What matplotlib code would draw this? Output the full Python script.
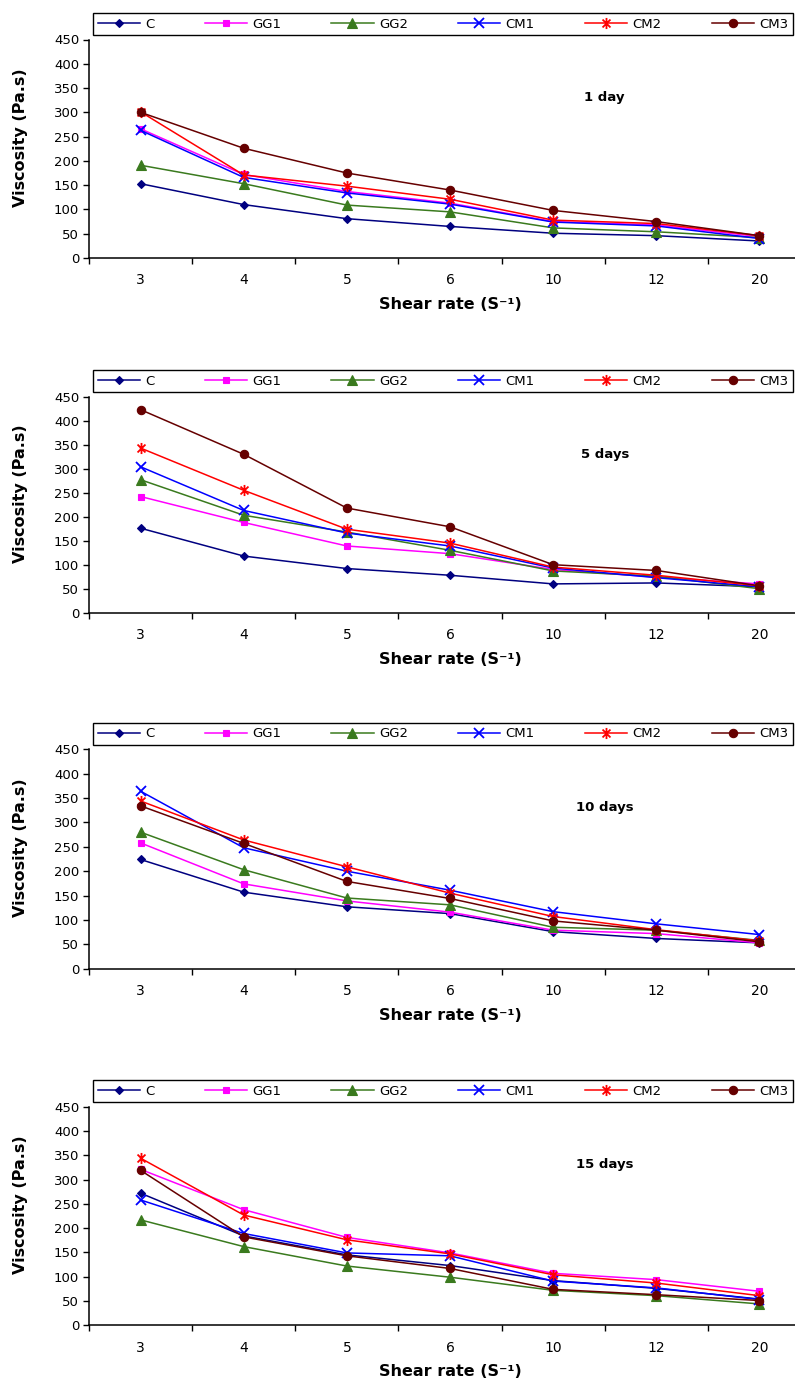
import matplotlib
matplotlib.use("Agg")
import matplotlib.pyplot as plt
from matplotlib.path import Path

SHEAR = ["3", "4", "5", "6", "10", "12", "20"]
SERIES = ["C", "GG1", "GG2", "CM1", "CM2", "CM3"]
PANELS = ["1 day", "5 days", "10 days", "15 days"]

# viscosity (Pa.s), one dict per storage time
DAY1 = {
    "C":   [153, 110, 81, 65, 51, 46, 35],
    "GG1": [266, 172, 137, 113, 75, 68, 44],
    "GG2": [191, 153, 109, 95, 62, 54, 42],
    "CM1": [263, 166, 134, 111, 74, 66, 40],
    "CM2": [301, 171, 148, 121, 78, 71, 46],
    "CM3": [300, 226, 175, 140, 98, 75, 46],
}
DAY5 = {
    "C":   [176, 118, 92, 78, 60, 62, 54],
    "GG1": [242, 188, 139, 123, 90, 74, 60],
    "GG2": [277, 203, 168, 130, 87, 76, 50],
    "CM1": [304, 213, 166, 139, 93, 73, 54],
    "CM2": [343, 255, 174, 145, 95, 78, 56],
    "CM3": [423, 330, 218, 179, 100, 88, 56],
}
DAY10 = {
    "C":   [224, 157, 127, 113, 76, 62, 53],
    "GG1": [258, 174, 139, 116, 79, 72, 53],
    "GG2": [280, 203, 145, 131, 85, 79, 58],
    "CM1": [364, 248, 200, 161, 117, 92, 70],
    "CM2": [344, 264, 209, 155, 107, 80, 57],
    "CM3": [334, 257, 179, 144, 98, 79, 55],
}
DAY15 = {
    "C":   [272, 184, 145, 123, 92, 76, 54],
    "GG1": [321, 238, 181, 149, 107, 94, 70],
    "GG2": [217, 162, 122, 99, 72, 61, 44],
    "CM1": [258, 189, 149, 143, 91, 77, 53],
    "CM2": [344, 227, 176, 147, 104, 87, 61],
    "CM3": [319, 182, 143, 117, 74, 63, 51],
}
DATA = [DAY1, DAY5, DAY10, DAY15]

# Excel style "star": an x with a vertical bar through it
STAR = Path([(-1, -1), (1, 1), (-1, 1), (1, -1), (0, -1.4), (0, 1.4)],
            [Path.MOVETO, Path.LINETO, Path.MOVETO, Path.LINETO,
             Path.MOVETO, Path.LINETO])

STYLE = {
    "C":   ("#000080", "D", 4.5),
    "GG1": ("#FF00FF", "s", 5),
    "GG2": ("#3A7A1E", "^", 6.5),
    "CM1": ("#0000FF", "x", 7),
    "CM2": ("#FF0000", STAR, 8),
    "CM3": ("#660000", "o", 6),
}

# axes rectangles in pixels (top of 450, bottom at 0)
W, H = 795, 1394
AX_X0, AX_X1 = 89, 811
AX_Y = [(39.5, 258), (396.7, 612.7), (749.3, 968.7), (1106.7, 1325.3)]


def main():
    plt.rcParams.update({"font.family": "DejaVu Sans"})
    fig = plt.figure(figsize=(W / 100, H / 100), dpi=100)
    x = list(range(len(SHEAR)))
    for data, label, (ytop, ybot) in zip(DATA, PANELS, AX_Y):
        ax = fig.add_axes([AX_X0 / W, 1 - ybot / H,
                           (AX_X1 - AX_X0) / W, (ybot - ytop) / H])
        for name in SERIES:
            color, marker, ms = STYLE[name]
            ax.plot(x, data[name], color=color, marker=marker, markersize=ms,
                    markeredgewidth=1.3 if name in ("CM1", "CM2") else 0.8,
                    linewidth=1.1, label=name)
        ax.set_xlim(-0.5, len(SHEAR) - 0.5)
        ax.set_ylim(0, 450)
        ax.set_yticks(range(0, 451, 50))
        ax.set_xticks([i - 0.5 for i in range(len(SHEAR) + 1)])
        ax.set_xticklabels([])
        ax.set_xticks(x, SHEAR, minor=True)
        ax.tick_params(axis="x", which="major", direction="out", length=4, width=1)
        ax.tick_params(axis="x", which="minor", length=0, pad=11, labelsize=10)
        ax.tick_params(axis="y", direction="out", length=4, width=1, pad=3,
                       labelsize=9.5)
        for s in ("top", "right"):
            ax.spines[s].set_visible(False)
        for s in ("left", "bottom"):
            ax.spines[s].set_linewidth(1.1)
        ax.set_xlabel("Shear rate (S\u207b\u00b9)", fontsize=11.5,
                      fontweight="bold", labelpad=7)
        ax.set_ylabel("Viscosity (Pa.s)", fontsize=11.5, fontweight="bold")
        ax.yaxis.set_label_coords(-0.085, 0.55)
        ax.text(4.5, 330, label, fontsize=9.5, fontweight="bold",
                ha="center", va="center")
        ax.legend(loc="lower left", ncol=6, mode="expand",
                  bbox_to_anchor=(4 / 722, 1.02, 700 / 722, 0.1),
                  borderaxespad=0, fontsize=9.5, handlelength=3.2,
                  handletextpad=0.4, frameon=True, fancybox=False,
                  edgecolor="black", framealpha=1, borderpad=0.35)
        ax.get_legend().get_frame().set_linewidth(1.0)
    fig.savefig("out.png", dpi=100)


if __name__ == "__main__":
    main()
